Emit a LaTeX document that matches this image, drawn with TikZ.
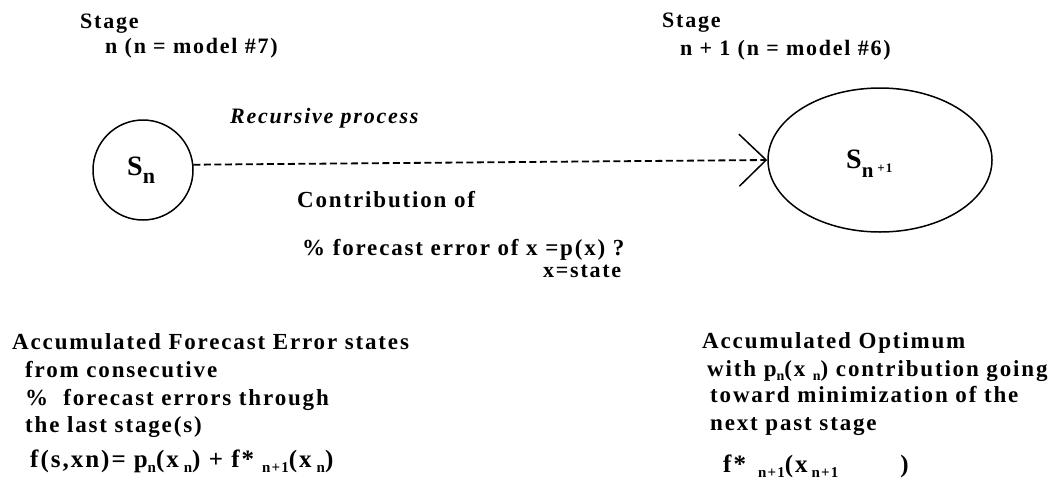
\documentclass[tikz,border=0pt]{standalone}
\usepackage{fontspec}
\setmainfont{Liberation Serif}[LetterSpace=8]
\usetikzlibrary{arrows.meta,shapes.geometric}
\newcommand\lsub[1]{\raisebox{-0.4ex}{\fontsize{14}{14}\selectfont #1}}
\newcommand\fsub[1]{\raisebox{-0.45ex}{\fontsize{15}{15}\selectfont #1}}
\begin{document}
\begin{tikzpicture}[x=1pt,y=-1pt,
  txt/.style={anchor=base west, inner sep=0pt, font=\fontsize{22}{26}\selectfont\bfseries},
  bigtxt/.style={txt, font=\fontsize{23}{27}\selectfont\bfseries},
  formula/.style={txt, font=\fontsize{25}{29}\selectfont\bfseries},
  state/.style={draw, line width=1.5pt, inner sep=0pt},
  link/.style={line width=1.8pt, dash pattern=on 7pt off 3.5pt,
    -{Straight Barb[length=27pt,width=52pt,line width=1.5pt]}}]
\useasboundingbox (0,0) rectangle (1062,491);
% states
\node[state, circle, minimum size=100pt] (sn) at (143,170) {};
\node[state, ellipse, minimum width=224pt, minimum height=144pt] (snp) at (880,160) {};
\node[anchor=base west, inner sep=0pt, font=\fontsize{28}{28}\selectfont\bfseries] (snlab) at (127,175)
  {S\raisebox{-8pt}{\fontsize{22}{22}\selectfont n}};
\node[anchor=base west, inner sep=0pt, font=\fontsize{28}{28}\selectfont\bfseries] (snplab) at (846,168)
  {S\raisebox{-9pt}{\fontsize{21}{21}\selectfont n}\hspace{4pt}\raisebox{-4pt}{\fontsize{13}{13}\selectfont +1}};
% connector
\draw[link] (sn.6) -- (snp.west);
% stage labels
\node[txt] (stl) at (80,28) {Stage};
\node[txt] (stl2) at (105,53) {n (n = model \#7)};
\node[txt] (str) at (662,27) {Stage};
\node[txt] (str2) at (680,55) {n + 1 (n = model \#6)};
% middle labels
\node[txt, font=\fontsize{22}{26}\selectfont\bfseries\itshape] (rec) at (230,123) {Recursive process};
\node[bigtxt] (con) at (297,207) {Contribution of};
\node[bigtxt] (pct) at (302,255) {\% forecast error of x =p(x) ?};
\node[txt] (xst) at (543,277) {x=state};
% bottom left
\node[bigtxt] (bl1) at (12,349) {Accumulated Forecast Error states};
\node[bigtxt] (bl2) at (25,377) {from consecutive};
\node[bigtxt] (bl3) at (25,405) {\%\ \ forecast errors through};
\node[bigtxt] (bl4) at (25,432) {the last stage(s)};
\node[formula] (bl5) at (30,467) {f(s,xn)=\hspace{8pt}p\fsub{n}(x\hspace{5pt}\fsub{n}) + f*\hspace{8pt}\fsub{n+1}(x\hspace{5pt}\fsub{n})};
% bottom right
\node[bigtxt] (br1) at (702,348) {Accumulated Optimum};
\node[bigtxt] (br2) at (707,376) {with p\lsub{n}(x \lsub{n}) contribution going};
\node[bigtxt] (br3) at (710,402) {toward minimization of the};
\node[bigtxt] (br4) at (710,430) {next past stage};
\node[formula] (br5) at (723,472) {f*\hspace{12pt}\fsub{n+1}(x\hspace{4pt}\fsub{n+1}\hspace{62pt})};
\end{tikzpicture}
\end{document}
